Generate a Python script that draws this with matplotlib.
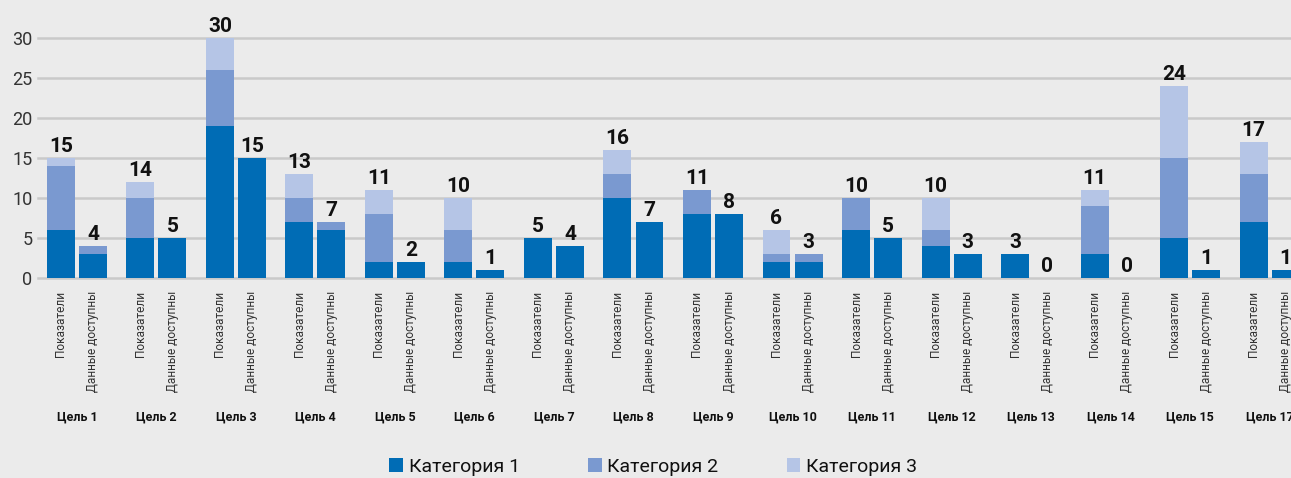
import numpy as np
import matplotlib
matplotlib.use('Agg')
import matplotlib.pyplot as plt
from matplotlib.patches import Patch

plt.rcParams['font.family'] = ['Roboto', 'DejaVu Sans']

goals = ['Цель 1', 'Цель 2', 'Цель 3', 'Цель 4', 'Цель 5', 'Цель 6', 'Цель 7', 'Цель 8',
         'Цель 9', 'Цель 10', 'Цель 11', 'Цель 12', 'Цель 13', 'Цель 14', 'Цель 15', 'Цель 17']
bar_names = ['Показатели', 'Данные доступны']
series = ['Категория 1', 'Категория 2', 'Категория 3']

# Показатели
ind_c1 = [6, 5, 19, 7, 2, 2, 5, 10, 8, 2, 6, 4, 3, 3, 5, 7]
ind_c2 = [8, 5, 7, 3, 6, 4, 0, 3, 3, 1, 4, 2, 0, 6, 10, 6]
ind_c3 = [1, 2, 4, 3, 3, 4, 0, 3, 0, 3, 0, 4, 0, 2, 9, 4]
ind_lbl = [15, 14, 30, 13, 11, 10, 5, 16, 11, 6, 10, 10, 3, 11, 24, 17]

# Данные доступны
dat_c1 = [3, 5, 15, 6, 2, 1, 4, 7, 8, 2, 5, 3, 0, 0, 1, 1]
dat_c2 = [1, 0, 0, 1, 0, 0, 0, 0, 0, 1, 0, 0, 0, 0, 0, 0]
dat_c3 = [0, 0, 0, 0, 0, 0, 0, 0, 0, 0, 0, 0, 0, 0, 0, 0]
dat_lbl = [4, 5, 15, 7, 2, 1, 4, 7, 8, 3, 5, 3, 0, 0, 1, 1]

colors = ['#006cb5', '#7a99d0', '#b5c5e6']
bg = '#ebebeb'

fig = plt.figure(figsize=(12.91, 4.78), dpi=100, facecolor=bg)
ax = fig.add_axes([38/1291, 200/478, 1 - 38/1291, 240/478], facecolor=bg)

x = np.arange(len(goals))
off = 0.2013
w = 0.352
xi = x - off
xd = x + off

for xs, parts, lbls in [(xi, [ind_c1, ind_c2, ind_c3], ind_lbl),
                        (xd, [dat_c1, dat_c2, dat_c3], dat_lbl)]:
    bottom = np.zeros(len(goals))
    for vals, c in zip(parts, colors):
        vals = np.array(vals, dtype=float)
        ax.bar(xs, vals, w, bottom=bottom, color=c, zorder=3, clip_on=False)
        bottom += vals
    for xx, top, lab in zip(xs, bottom, lbls):
        ax.text(xx, top + 0.3, str(lab), ha='center', va='bottom', fontsize=15,
                fontweight='bold', color='#111111', clip_on=False, zorder=4)

ax.set_xlim(-0.49, 15.27)
ax.set_ylim(0, 30)
ax.set_yticks(range(0, 31, 5))
ax.yaxis.grid(True, color='#c9c9c9', linewidth=1.8, zorder=0)
for gl in ax.get_ygridlines():
    gl.set_clip_on(False)
ax.set_axisbelow(True)
for s in ax.spines.values():
    s.set_visible(False)
ax.tick_params(axis='y', length=0, labelsize=13, labelcolor='#333333', pad=4)

ticks = np.ravel(np.column_stack([xi, xd]))
ax.set_xticks(ticks)
ax.set_xticklabels(bar_names * len(goals), rotation=90, fontsize=8.6,
                   color='#333333', va='top', ha='center')
ax.tick_params(axis='x', length=0, pad=9)

for xx, g in zip(x, goals):
    ax.text(xx, -0.58, g, transform=ax.get_xaxis_transform(), ha='center', va='center',
            fontsize=9, fontweight='bold', color='#111111', clip_on=False)

handles = [Patch(facecolor=c, label=s) for c, s in zip(colors, series)]
fig.legend(handles=handles, loc='center', bbox_to_anchor=(0.506, 0.023), ncol=3,
           frameon=False, fontsize=14, handlelength=0.7, handleheight=0.7,
           handletextpad=0.3, columnspacing=3.5, labelcolor='#111111')

fig.savefig('out.png', dpi=100, facecolor=bg)
